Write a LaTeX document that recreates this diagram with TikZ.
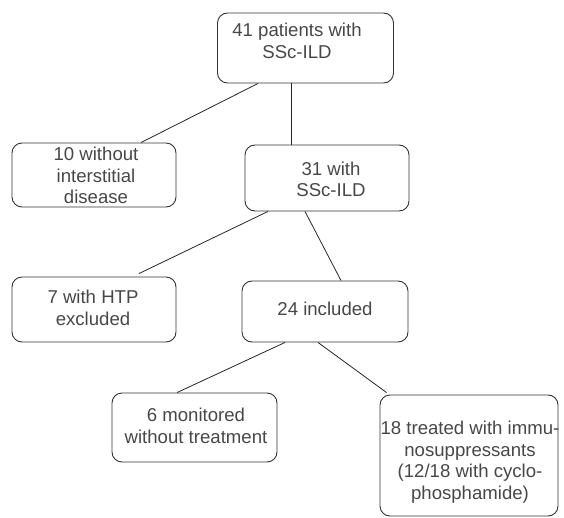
\documentclass[tikz,border=0pt]{standalone}
\usepackage{fontspec}
\setmainfont{Liberation Sans}
\begin{document}
\begin{tikzpicture}[x=1pt,y=-1pt,
  box/.style={draw=black!80, line width=0.9pt, rounded corners=10pt, inner sep=0pt},
  txt/.style={align=center, text=black!72, font=\fontsize{18.6}{21.5}\selectfont, inner sep=0pt, anchor=base},
  conn/.style={draw=black!85, line width=0.8pt}]
\useasboundingbox (0,0) rectangle (564,518);
% boxes (pixel coordinates)
\node[box, minimum width=176pt, minimum height=70pt] (b1) at (305.5,48) {};
\node[box, minimum width=164pt, minimum height=64pt] (b2) at (94,175) {};
\node[box, minimum width=164pt, minimum height=66pt] (b3) at (327,178) {};
\node[box, minimum width=164pt, minimum height=65pt] (b4) at (94,309.5) {};
\node[box, minimum width=166pt, minimum height=61pt] (b5) at (325,311.5) {};
\node[box, minimum width=165pt, minimum height=69pt] (b6) at (194.5,427.5) {};
\node[box, minimum width=178pt, minimum height=121pt] (b7) at (469,455.5) {};
% texts (anchor at baseline of last line)
\node[txt] (t1) at (297,58.5) {41 patients with\\SSc-ILD};
\node[txt] (t2) at (96,204) {10 without\\interstitial\\disease};
\node[txt] (t3) at (331,197) {31 with\\SSc-ILD};
\node[txt] (t4) at (93,325) {7 with HTP\\excluded};
\node[txt] (t5) at (325,315) {24 included};
\node[txt] (t6) at (196,443) {6 monitored\\without treatment};
\node[txt] (t7) at (470,499) {18 treated with immu-\\nosuppressants\\(12/18 with cyclo-\\phosphamide)};
% connectors
\draw[conn] ([xshift=-47.5pt]b1.south) -- ([xshift=47pt]b2.north);
\draw[conn] ([xshift=-14.5pt]b1.south) -- ([xshift=-36pt]b3.north);
\draw[conn] ([xshift=-59pt]b3.south) -- ([xshift=45pt,yshift=3pt]b4.north);
\draw[conn] ([xshift=-22pt]b3.south) -- ([xshift=16pt]b5.north);
\draw[conn] ([xshift=-40pt]b5.south) -- ([xshift=-17.5pt]b6.north);
\draw[conn] ([xshift=-7pt]b5.south) -- ([xshift=7pt,yshift=2pt]b7.north west);
\end{tikzpicture}
\end{document}
